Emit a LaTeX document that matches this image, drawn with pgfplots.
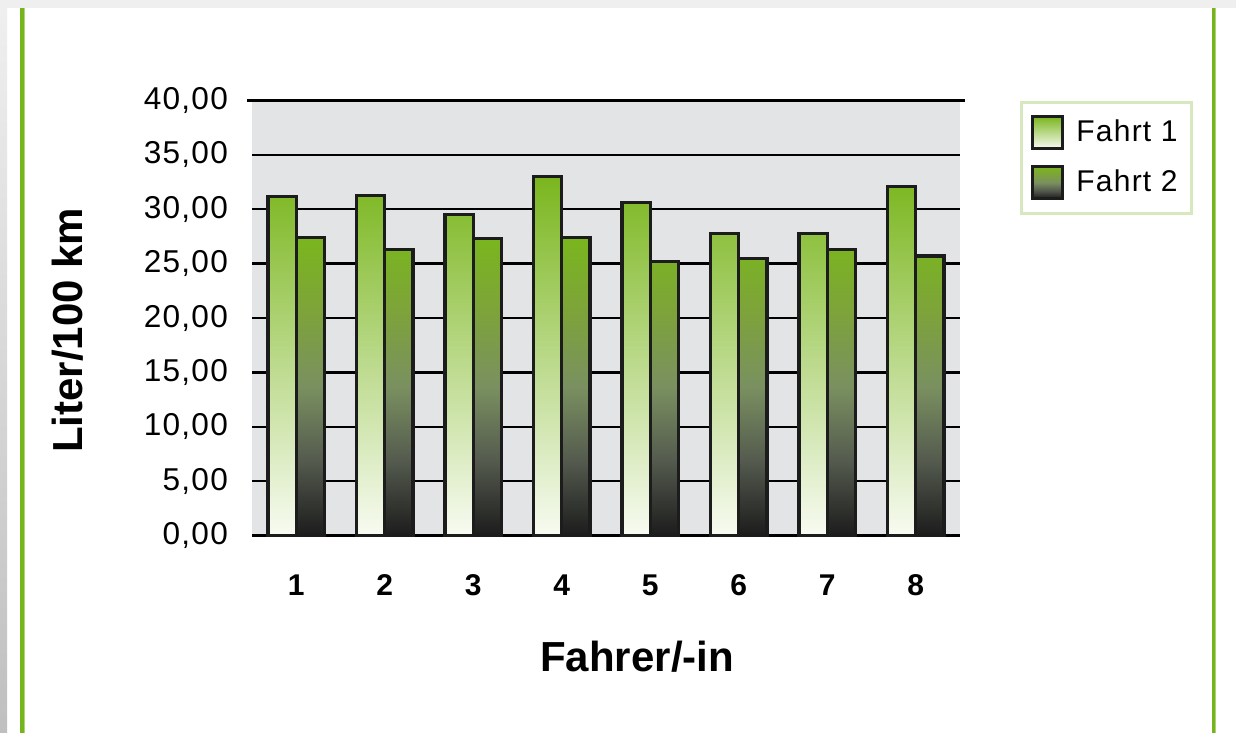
\documentclass[border=0pt]{standalone}
\usepackage{fontspec}
\setmainfont{Liberation Sans}
\usepackage{pgfplots}
\pgfplotsset{compat=1.18}
\definecolor{barG}{RGB}{122,182,30}
\definecolor{barW}{RGB}{248,251,242}
\definecolor{barD}{RGB}{28,28,28}
\definecolor{barM}{RGB}{122,144,96}
\definecolor{barQ}{RGB}{125,163,58}
\definecolor{barL}{RGB}{84,90,78}
\definecolor{plotgray}{RGB}{227,228,230}
\definecolor{frameG}{RGB}{118,180,28}
\definecolor{legG}{RGB}{216,232,190}
\definecolor{topgray}{RGB}{239,239,239}
\pgfdeclareverticalshading{fahrtzwei}{100bp}{color(0bp)=(barD); color(25bp)=(barD); color(37.5bp)=(barL); color(50bp)=(barM); color(62.5bp)=(barQ); color(75bp)=(barG); color(100bp)=(barG)}
\pgfdeclareverticalshading{fahrteins}{100bp}{color(0bp)=(barW); color(25bp)=(barW); color(75bp)=(barG); color(100bp)=(barG)}
\pgfplotstableread{
x f1 f2
1 31.2 27.4
2 31.3 26.3
3 29.5 27.3
4 33.0 27.4
5 30.6 25.2
6 27.8 25.5
7 27.8 26.3
8 32.1 25.7
}\datatable
\begin{document}
\begin{tikzpicture}
\begin{scope}[x=0.5pt,y=-0.5pt]
\fill[white] (0,0) rectangle (1236,733);
\fill[topgray] (0,0) rectangle (1236,8);
\shade[top color=topgray, bottom color=black!25] (0,8) rectangle (7,733);
\fill[frameG] (20,8) rectangle (25,733);
\fill[frameG!60] (24,8) rectangle (25,733);
\fill[frameG] (1212,8) rectangle (1216,733);
\fill[frameG!60] (1215,8) rectangle (1216,733);
\end{scope}
\begin{axis}[
  at={(126pt,-267.75pt)}, anchor=south west,
  scale only axis, width=354pt, height=217.5pt,
  xmin=0.5, xmax=8.5, ymin=0, ymax=40,
  ybar=0pt, bar width=0.32,
  axis background/.style={fill=plotgray},
  axis line style={draw=none},
  ytick={0,5,...,40}, xtick={1,...,8},
  major tick length=0pt,
  ymajorgrids,
  major grid style={black, line width=1.2pt, shorten <=-2.5pt, shorten >=-2.5pt},
  /pgf/number format/assume math mode=true,
  yticklabel style={/pgf/number format/fixed, /pgf/number format/fixed zerofill, /pgf/number format/precision=2, /pgf/number format/use comma,
    font=\fontsize{15.8}{18}\selectfont\addfontfeature{LetterSpace=4}, xshift=-8.5pt},
  xticklabel style={font=\fontsize{15}{18}\selectfont\bfseries, yshift=-16pt},
  every axis y label/.style={at={(axis description cs:-0.26,0.472)}, rotate=90, anchor=center, font=\fontsize{21}{25}\selectfont\bfseries},
  every axis x label/.style={at={(axis description cs:0.544,-0.279)}, anchor=center, font=\fontsize{21}{25}\selectfont\bfseries},
  ylabel={Liter/100 km}, xlabel={Fahrer/-in},
  legend style={at={(axis description cs:1.0847,1.0)}, anchor=north west, draw=legG, line width=1.5pt,
    font=\fontsize{15}{18}\selectfont\addfontfeature{LetterSpace=4}, inner xsep=5pt, inner ysep=6.5pt, row sep=7.5pt,
    cells={anchor=west}, /tikz/every odd column/.style={column sep=4pt}},
  legend image code/.code={\draw[#1, line width=1.5pt] (0pt,-8pt) rectangle (15pt,8pt);},
  clip=false,
]
\addplot[draw=barD, line width=1.6pt, shade, shading=fahrteins] table[x=x, y=f1] {\datatable};
\addplot[draw=barD, line width=1.6pt, shade, shading=fahrtzwei] table[x=x, y=f2] {\datatable};
\legend{Fahrt 1, Fahrt 2}
\end{axis}
\end{tikzpicture}
\end{document}
